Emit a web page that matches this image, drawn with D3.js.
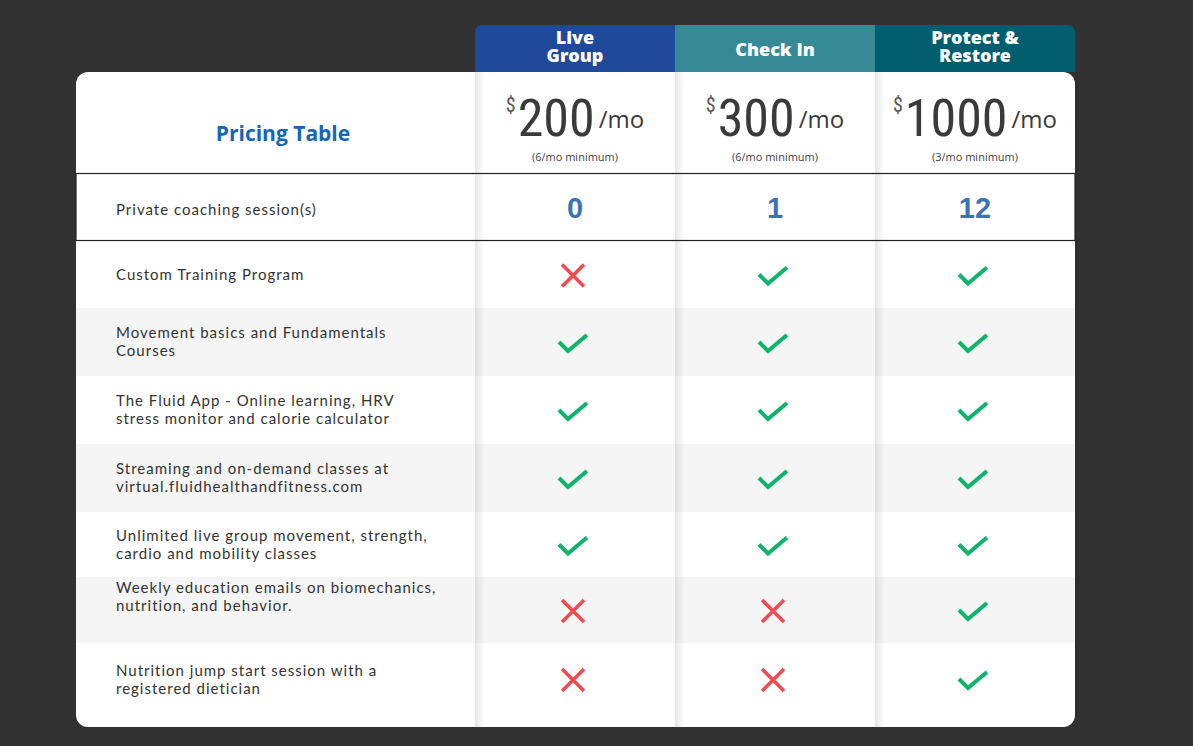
<!DOCTYPE html>
<html><head><meta charset="utf-8">
<script src="https://cdn.jsdelivr.net/npm/d3@7"></script>
<style>body{margin:0;background:#323232;}svg{display:block}</style>
</head><body><svg id="c" width="1193" height="746"></svg>
<script>
const plans = ["Live Group", "Check In", "Protect & Restore"];
const planLines = [["Live","Group"],["Check In"],["Protect &","Restore"]];
const planColors = ["#1f4a9a", "#368a95", "#025d6e"];
const prices = [200, 300, 1000];
const minimums = ["(6/mo minimum)", "(6/mo minimum)", "(3/mo minimum)"];
const sessions = [0, 1, 12];
const features = [
  ["Custom Training Program"],
  ["Movement basics and Fundamentals","Courses"],
  ["The Fluid App - Online learning, HRV","stress monitor and calorie calculator"],
  ["Streaming and on-demand classes at","virtual.fluidhealthandfitness.com"],
  ["Unlimited live group movement, strength,","cardio and mobility classes"],
  ["Weekly education emails on biomechanics,","nutrition, and behavior."],
  ["Nutrition jump start session with a","registered dietician"]
];
const included = [
  [0,1,1],[1,1,1],[1,1,1],[1,1,1],[1,1,1],[0,0,1],[0,0,1]
];

const svg = d3.select("#c");
const defs = svg.append("defs");
const g = defs.append("linearGradient").attr("id","sh");
g.append("stop").attr("offset","0").attr("stop-color","#000").attr("stop-opacity",0.09);
g.append("stop").attr("offset","1").attr("stop-color","#000").attr("stop-opacity",0);

const L=76,R=1075,T=72,B=727;
const x = d3.scaleBand().domain(d3.range(3)).range([475,1075]);
const rowEdges=[241,308,376,444,512,577,643,727];
const y = d3.scaleOrdinal().domain(d3.range(7)).range(rowEdges.slice(0,7));
const yEnd = i=>rowEdges[i+1];

svg.append("rect").attr("x",L).attr("y",T).attr("width",R-L).attr("height",B-T).attr("rx",12).attr("fill","#fff");
features.forEach((f,i)=>{ if(i%2===1) svg.append("rect").attr("x",L).attr("y",y(i)).attr("width",R-L).attr("height",yEnd(i)-y(i)).attr("fill","#f5f5f5"); });
// private coaching row
svg.append("rect").attr("x",L).attr("y",173.5).attr("width",R-L).attr("height",67).attr("fill","#fff").attr("stroke","#222").attr("stroke-width",1.2);
d3.range(3).forEach(j=>{
  svg.append("rect").attr("x",x(j)).attr("y",T).attr("width",10).attr("height",B-T).attr("fill","url(#sh)");
});
svg.append("rect").attr("x",R).attr("y",T).attr("width",6).attr("height",B-T-10).attr("fill","url(#sh)");
svg.append("text").attr("x",116).attr("y",215).attr("font-family","Lato, sans-serif").attr("font-size",15).attr("letter-spacing",1).attr("fill","#333").text("Private coaching session(s)");

plans.forEach((p,j)=>{
  const x0=x(j),w=x.bandwidth();
  if(j===0) svg.append("path").attr("d",`M${x0},72 V33 Q${x0},25 ${x0+8},25 H${x0+w} V72Z`).attr("fill",planColors[j]);
  else if(j===2) svg.append("path").attr("d",`M${x0},72 V25 H${x0+w-8} Q${x0+w},25 ${x0+w},33 V72Z`).attr("fill",planColors[j]);
  else svg.append("rect").attr("x",x0).attr("y",25).attr("width",w).attr("height",47).attr("fill",planColors[j]);
  const lines=planLines[j];
  const cy = lines.length===1?[56]:[44,62];
  lines.forEach((t,k)=>svg.append("text").attr("x",x0+w/2).attr("y",cy[k]).attr("text-anchor","middle")
    .attr("font-family","Open Sans, sans-serif").attr("font-weight",800).attr("font-size",18).attr("fill","#fff").text(t));
  const cx=x0+w/2;
  const t=svg.append("text").attr("x",cx).attr("y",136).attr("text-anchor","middle").attr("fill","#3a3a3a")
    .attr("font-family","Liberation Sans Narrow, Roboto Condensed, sans-serif");
  t.append("tspan").attr("font-size",20).attr("dy",-24).attr("fill","#555").text("$");
  t.append("tspan").attr("font-size",52).attr("dy",24).attr("dx",2).text(prices[j]);
  t.append("tspan").attr("font-size",24).attr("dy",-8).attr("dx",4).attr("font-family","Open Sans, sans-serif").text("/mo");
  svg.append("text").attr("x",cx).attr("y",161).attr("text-anchor","middle").attr("font-family","Open Sans, sans-serif")
    .attr("font-size",11).attr("fill","#444").text(minimums[j]);
  svg.append("text").attr("x",cx).attr("y",218).attr("text-anchor","middle").attr("font-family","Liberation Sans Narrow, sans-serif")
    .attr("font-weight",700).attr("font-size",29).attr("fill","#3d72b4").text(sessions[j]);
});
svg.append("text").attr("x",283).attr("y",141).attr("text-anchor","middle").attr("font-family","Open Sans, sans-serif")
  .attr("font-weight",700).attr("font-size",21).attr("fill","#1565b8").text("Pricing Table");
features.forEach((f,i)=>{
  const mid=(y(i)+yEnd(i))/2;
  const n=f.length;
  const top = i===5?593 : i===6?676 : (n===1? mid+5 : mid-4);
  f.forEach((t,k)=>svg.append("text").attr("x",116).attr("y",top+k*18).attr("font-family","Lato, sans-serif").attr("font-size",15)
    .attr("letter-spacing",1).attr("fill","#333").text(t));
  included[i].forEach((v,j)=>{
    const cx=x(j)+x.bandwidth()/2 - 2, cy = i===6?680:mid+1;
    if(v) svg.append("path").attr("d",`M${cx-14},${cy-1} L${cx-5},${cy+8} L${cx+14},${cy-8}`).attr("fill","none").attr("stroke","#0fb36b").attr("stroke-width",4);
    else svg.append("path").attr("d",`M${cx-11},${cy-11} L${cx+11},${cy+11} M${cx+11},${cy-11} L${cx-11},${cy+11}`).attr("stroke","#f24a50").attr("stroke-width",3.5);
  });
});
</script></body></html>
